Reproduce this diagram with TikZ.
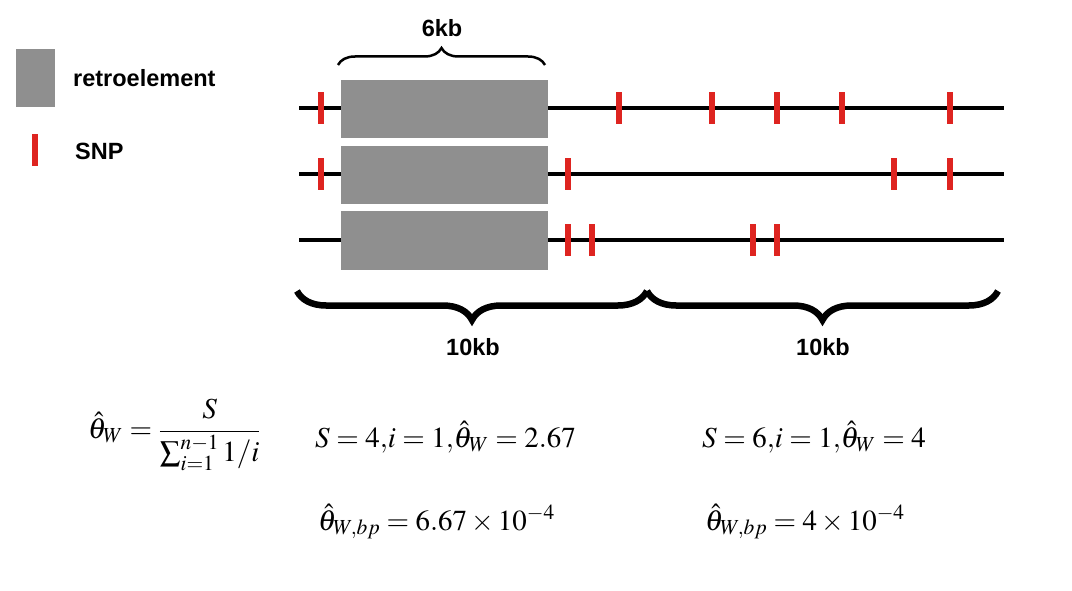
\documentclass[tikz,border=0pt]{standalone}
\usepackage{mathptmx}
\usepackage[no-math]{fontspec}
\setsansfont{Liberation Sans}
\usetikzlibrary{decorations.pathreplacing}

\begin{document}
\begin{tikzpicture}[x=1pt,y=-1pt]
    % Define colours
    \definecolor{retroColour}{HTML}{8F8F8F}
    \definecolor{snpColour}{HTML}{DE2420}

    \tikzset{
        label text/.style={font=\fontsize{23.5}{27}\selectfont\sffamily\bfseries, inner sep=0pt},
        formula/.style={font=\fontsize{29}{34}\selectfont, inner sep=0pt},
        snp/.style={fill=snpColour},
        chromosome/.style={line width=4pt},
    }

    \useasboundingbox (0,0) rectangle (1072,591);

    % Legend
    \fill[retroColour] (16,49) rectangle (55,107);
    \node[label text, anchor=base west] (retro label) at (73,87) {retroelement};
    \fill[snp] (32,134) rectangle (38,166);
    \node[label text, anchor=base west] (snp label) at (75,160) {SNP};

    % Draw chromosomes
    \foreach \y in {108,174,240}
        \draw[chromosome] (299,\y) -- (1004,\y);

    % Draw retroelements
    \fill[retroColour] (341,80) rectangle (548,138);
    \fill[retroColour] (341,146) rectangle (548,204);
    \fill[retroColour] (341,211) rectangle (548,270);

    % SNPs on each chromosome
    \foreach \x in {321,619,712,777,842,950}
        \fill[snp] (\x-3,92) rectangle (\x+3,124);
    \foreach \x in {321,568,894,950}
        \fill[snp] (\x-3,158) rectangle (\x+3,190);
    \foreach \x in {568,592,753,777}
        \fill[snp] (\x-3,224) rectangle (\x+3,256);

    % Braces
    \draw[line width=2.5pt, decorate, decoration={brace, amplitude=17pt}] (338,65) -- (545,65);
    \node[label text, anchor=base] (six kb) at (442,37) {6kb};
    \draw[line width=6.5pt, decorate, decoration={brace, mirror, amplitude=29pt}] (297,291) -- (647,291);
    \draw[line width=6.5pt, decorate, decoration={brace, mirror, amplitude=29pt}] (647,291) -- (998,291);
    \node[label text, anchor=base] (left kb) at (473,355) {10kb};
    \node[label text, anchor=base] (right kb) at (823,355) {10kb};

    % Estimates
    \node[formula, anchor=west] (watterson) at (88,435) {$\hat{\theta}_W = \displaystyle\frac{S}{\sum_{i=1}^{n-1} 1/i}$};
    \node[formula, anchor=base west] (left est) at (315,447) {$S = 4{,}i = 1{,}\hat{\theta}_W = 2.67$};
    \node[formula, anchor=base west] (right est) at (702,447) {$S = 6{,}i = 1{,}\hat{\theta}_W = 4$};
    \node[formula, anchor=base west] (left bp) at (318,530) {$\hat{\theta}_{W,bp} = 6.67 \times 10^{-4}$};
    \node[formula, anchor=base west] (right bp) at (705,530) {$\hat{\theta}_{W,bp} = 4 \times 10^{-4}$};

\end{tikzpicture}
\end{document}
